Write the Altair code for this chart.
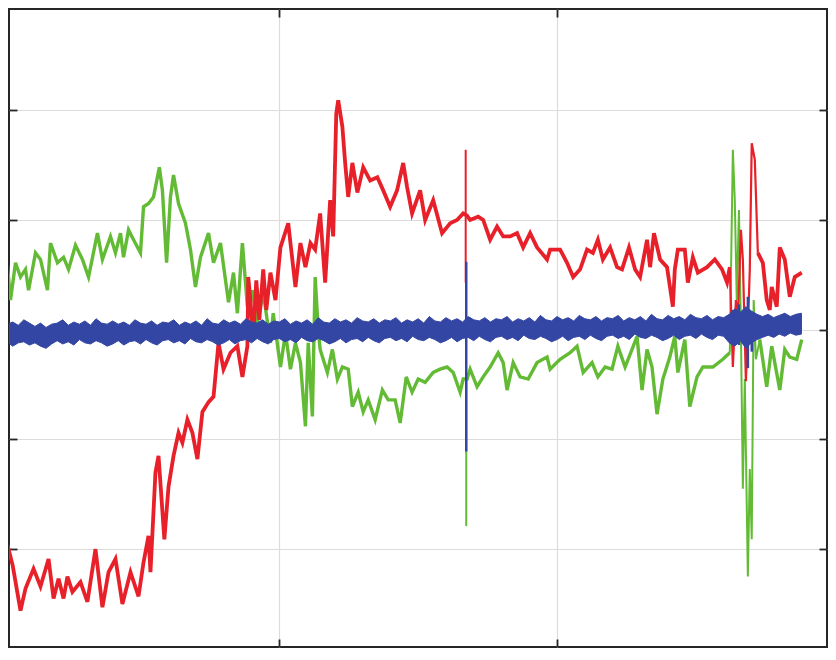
import altair as alt
import pandas as pd

# ---------------- data ----------------
red_x = [0.004, 0.011, 0.040, 0.068, 0.086, 0.115, 0.140, 0.169, 0.187, 0.205,
         0.223, 0.237, 0.255, 0.284, 0.309, 0.338, 0.363, 0.385, 0.410, 0.435,
         0.464, 0.493, 0.511, 0.529, 0.536, 0.554, 0.565, 0.586, 0.601, 0.619,
         0.637, 0.651, 0.669, 0.687, 0.705, 0.723, 0.745, 0.763, 0.781, 0.799,
         0.824, 0.849, 0.867, 0.885, 0.888, 0.896, 0.906, 0.917, 0.928, 0.942,
         0.953, 0.968, 0.986, 1.004, 1.032, 1.058, 1.076, 1.094, 1.112, 1.129,
         1.147, 1.165, 1.183, 1.194, 1.205, 1.212, 1.227, 1.237, 1.248, 1.263,
         1.281, 1.302, 1.327, 1.353, 1.374, 1.399, 1.424, 1.446, 1.460, 1.478,
         1.507, 1.525, 1.554, 1.586, 1.615, 1.640, 1.662, 1.676,
         1.687, 1.716, 1.734, 1.759, 1.784, 1.806, 1.831, 1.856, 1.878, 1.903,
         1.928, 1.964, 1.975, 2.011, 2.036, 2.058, 2.083, 2.108, 2.129, 2.147,
         2.165, 2.191, 2.216, 2.234, 2.259, 2.281, 2.299, 2.324, 2.335, 2.349,
         2.371, 2.396, 2.417, 2.424, 2.435, 2.460, 2.471, 2.489, 2.507, 2.540,
         2.568, 2.594, 2.612, 2.622]
red_y = [-1.95, -1.86, -2.15, -2.56, -2.36, -2.18, -2.34, -2.09, -2.45, -2.27,
         -2.45, -2.25, -2.39, -2.30, -2.48, -2.00, -2.53, -2.21, -2.09, -2.50,
         -2.21, -2.43, -2.12, -1.88, -2.21, -1.30, -1.15, -1.91, -1.43, -1.15,
         -0.94, -1.03, -0.82, -0.94, -1.18, -0.75, -0.66, -0.61, -0.12, -0.36,
         -0.21, -0.15, -0.43, -0.15, 0.48, 0.27, -0.09, 0.45, 0.09, 0.55,
         0.18, 0.52, 0.27, 0.75, 0.97, 0.39, 0.79, 0.57, 0.79, 0.73,
         1.06, 0.43, 1.18, 0.85, 1.97, 2.09, 1.85, 1.52, 1.21, 1.52,
         1.25, 1.48, 1.36, 1.39, 1.27, 1.12, 1.27, 1.52, 1.30, 1.06,
         1.27, 1.00, 1.18, 0.88, 0.97, 1.00, 1.06, 1.04,
         1.00, 1.03, 1.00, 0.82, 0.94, 0.85, 0.85, 0.88, 0.75, 0.88,
         0.75, 0.64, 0.73, 0.73, 0.61, 0.48, 0.55, 0.73, 0.70, 0.82,
         0.64, 0.75, 0.57, 0.55, 0.75, 0.55, 0.48, 0.82, 0.57, 0.88,
         0.64, 0.57, 0.21, 0.55, 0.73, 0.73, 0.43, 0.66, 0.52, 0.57,
         0.64, 0.55, 0.43, 0.57]

# red burst near the right end (thin strokes)
red_burst_x = [2.622, 2.633, 2.644, 2.651, 2.662, 2.669, 2.680, 2.687, 2.694,
               2.701, 2.712, 2.723]
red_burst_y = [0.57, -0.34, 0.27, 0.09, 0.91, 0.64, -0.47, 0.00, 0.55,
               1.70, 1.55, 0.70]

# red tail after the burst
red_tail_x = [2.723, 2.741, 2.755, 2.766, 2.773, 2.791, 2.802, 2.820, 2.838,
              2.856, 2.881]
red_tail_y = [0.70, 0.61, 0.27, 0.18, 0.39, 0.21, 0.75, 0.64, 0.30,
              0.48, 0.52]

green_x = [0.004, 0.014, 0.032, 0.050, 0.068, 0.086, 0.097, 0.122, 0.140, 0.165,
           0.176, 0.201, 0.223, 0.241, 0.266, 0.291, 0.313, 0.345, 0.363, 0.392,
           0.410, 0.428, 0.439, 0.457, 0.475, 0.500, 0.511, 0.529, 0.547, 0.568,
           0.579, 0.594, 0.608, 0.619, 0.637, 0.662, 0.680, 0.698, 0.716, 0.745,
           0.763, 0.788, 0.817, 0.835, 0.849, 0.867, 0.885, 0.903, 0.921, 0.942,
           0.968, 0.978, 1.004, 1.022, 1.040, 1.058, 1.076, 1.094, 1.104, 1.119,
           1.129, 1.140, 1.147, 1.173, 1.191, 1.209, 1.227, 1.248, 1.263, 1.284,
           1.302, 1.320, 1.345, 1.371, 1.392, 1.417, 1.435, 1.457, 1.478, 1.500,
           1.525, 1.554, 1.579, 1.604, 1.626, 1.651, 1.662, 1.676,
           1.687, 1.712, 1.734, 1.759, 1.788, 1.806, 1.820, 1.842, 1.867, 1.896,
           1.928, 1.964, 1.975, 2.011, 2.047, 2.072, 2.094, 2.126, 2.147, 2.173,
           2.198, 2.219, 2.245, 2.270, 2.288, 2.306, 2.324, 2.342, 2.360, 2.381,
           2.406, 2.424, 2.435, 2.460, 2.478, 2.504, 2.525, 2.561, 2.597, 2.622]
green_y = [0.85, 0.79, 0.27, 0.61, 0.48, 0.55, 0.36, 0.70, 0.64, 0.36,
           0.79, 0.61, 0.66, 0.55, 0.77, 0.64, 0.48, 0.88, 0.64, 0.85,
           0.70, 0.88, 0.66, 0.91, 0.82, 0.70, 1.12, 1.15, 1.21, 1.48,
           1.27, 0.61, 1.21, 1.41, 1.15, 0.97, 0.73, 0.39, 0.66, 0.88,
           0.61, 0.79, 0.25, 0.52, 0.15, 0.79, 0.21, 0.36, 0.06, 0.34,
           -0.12, 0.15, -0.34, -0.03, -0.36, -0.12, -0.30, -0.88, -0.12, -0.79,
           0.48, 0.00, -0.18, -0.39, -0.18, -0.45, -0.34, -0.36, -0.70, -0.57,
           -0.75, -0.64, -0.82, -0.55, -0.64, -0.64, -0.85, -0.43, -0.57, -0.45,
           -0.48, -0.39, -0.36, -0.34, -0.39, -0.57, -0.45, -0.45,
           -0.36, -0.52, -0.43, -0.34, -0.21, -0.30, -0.55, -0.30, -0.43, -0.45,
           -0.30, -0.25, -0.36, -0.27, -0.21, -0.15, -0.39, -0.30, -0.43, -0.34,
           -0.36, -0.15, -0.34, -0.18, -0.06, -0.55, -0.18, -0.34, -0.77, -0.45,
           -0.25, -0.06, -0.39, -0.09, -0.70, -0.43, -0.34, -0.34, -0.27, -0.21]

# green burst near the right end (thin strokes)
green_burst_x = [2.622, 2.633, 2.640, 2.647, 2.655, 2.662, 2.669, 2.676, 2.687,
                 2.694, 2.701, 2.708, 2.716, 2.730]
green_burst_y = [-0.21, 1.64, 1.18, 0.27, 1.09, 0.00, -1.45, -0.45, -2.25,
                 -1.27, -1.91, 0.27, -0.27, -0.09]

# green tail after the burst
green_tail_x = [2.730, 2.755, 2.773, 2.802, 2.820, 2.838, 2.863, 2.881]
green_tail_y = [-0.09, -0.52, -0.15, -0.55, -0.18, -0.25, -0.27, -0.09]

# isolated single-sample glitches (thin vertical strokes)
red_spike_x = [1.671]
red_spike_hi = [1.64]
red_spike_lo = [0.43]
green_spike_x = [1.673]
green_spike_hi = [-0.45]
green_spike_lo = [-1.79]

blue_x = [0.00, 0.02, 0.04, 0.06, 0.08, 0.10, 0.12, 0.14, 0.16, 0.18,
          0.20, 0.22, 0.24, 0.26, 0.28, 0.30, 0.32, 0.34, 0.36, 0.38,
          0.40, 0.42, 0.44, 0.46, 0.48, 0.50, 0.52, 0.54, 0.56, 0.58,
          0.60, 0.62, 0.64, 0.66, 0.68, 0.70, 0.72, 0.74, 0.76, 0.78,
          0.80, 0.82, 0.84, 0.86, 0.88, 0.90, 0.92, 0.94, 0.96, 0.98,
          1.00, 1.02, 1.04, 1.06, 1.08, 1.10, 1.12, 1.14, 1.16, 1.18,
          1.20, 1.22, 1.24, 1.26, 1.28, 1.30, 1.32, 1.34, 1.36, 1.38,
          1.40, 1.42, 1.44, 1.46, 1.48, 1.50, 1.52, 1.54, 1.56, 1.58,
          1.60, 1.62, 1.64, 1.66, 1.68, 1.70, 1.72, 1.74, 1.76, 1.78,
          1.80, 1.82, 1.84, 1.86, 1.88, 1.90, 1.92, 1.94, 1.96, 1.98,
          2.00, 2.02, 2.04, 2.06, 2.08, 2.10, 2.12, 2.14, 2.16, 2.18,
          2.20, 2.22, 2.24, 2.26, 2.28, 2.30, 2.32, 2.34, 2.36, 2.38,
          2.40, 2.42, 2.44, 2.46, 2.48, 2.50, 2.52, 2.54, 2.56, 2.58,
          2.60, 2.62, 2.64, 2.66, 2.68, 2.70, 2.72, 2.74, 2.76, 2.78,
          2.80, 2.82, 2.84, 2.86, 2.88]
blue_hi = [0.08, 0.05, 0.07, 0.04, 0.09, 0.06, 0.03, 0.06, 0.02, 0.05,
           0.06, 0.09, 0.04, 0.07, 0.05, 0.08, 0.04, 0.10, 0.06, 0.05,
           0.08, 0.05, 0.07, 0.04, 0.09, 0.06, 0.05, 0.08, 0.04, 0.07,
           0.06, 0.09, 0.04, 0.07, 0.05, 0.08, 0.04, 0.10, 0.06, 0.05,
           0.09, 0.06, 0.08, 0.05, 0.10, 0.07, 0.06, 0.09, 0.05, 0.08,
           0.07, 0.10, 0.05, 0.08, 0.06, 0.09, 0.05, 0.11, 0.07, 0.06,
           0.10, 0.07, 0.09, 0.06, 0.11, 0.08, 0.07, 0.10, 0.06, 0.09,
           0.08, 0.11, 0.06, 0.09, 0.07, 0.10, 0.06, 0.12, 0.08, 0.07,
           0.11, 0.08, 0.10, 0.07, 0.12, 0.09, 0.08, 0.11, 0.07, 0.10,
           0.09, 0.12, 0.07, 0.10, 0.08, 0.11, 0.07, 0.13, 0.09, 0.08,
           0.12, 0.09, 0.11, 0.08, 0.13, 0.10, 0.09, 0.12, 0.08, 0.11,
           0.10, 0.13, 0.08, 0.11, 0.09, 0.12, 0.08, 0.14, 0.10, 0.09,
           0.13, 0.10, 0.12, 0.09, 0.14, 0.11, 0.10, 0.13, 0.09, 0.12,
           0.11, 0.14, 0.19, 0.16, 0.21, 0.17, 0.14, 0.12, 0.14, 0.11,
           0.13, 0.15, 0.12, 0.14, 0.15]
blue_lo = [-0.14, -0.11, -0.15, -0.12, -0.11, -0.14, -0.12, -0.15, -0.17, -0.13,
           -0.10, -0.13, -0.11, -0.14, -0.09, -0.12, -0.13, -0.10, -0.12, -0.15,
           -0.13, -0.10, -0.14, -0.11, -0.10, -0.13, -0.09, -0.12, -0.14, -0.10,
           -0.09, -0.12, -0.10, -0.13, -0.08, -0.11, -0.12, -0.09, -0.11, -0.14,
           -0.12, -0.09, -0.13, -0.10, -0.09, -0.12, -0.08, -0.11, -0.13, -0.09,
           -0.08, -0.11, -0.09, -0.12, -0.07, -0.10, -0.11, -0.08, -0.10, -0.13,
           -0.11, -0.08, -0.12, -0.09, -0.08, -0.11, -0.07, -0.10, -0.12, -0.08,
           -0.07, -0.10, -0.08, -0.11, -0.06, -0.09, -0.10, -0.07, -0.09, -0.12,
           -0.10, -0.07, -0.11, -0.08, -0.07, -0.10, -0.06, -0.09, -0.11, -0.07,
           -0.06, -0.09, -0.07, -0.10, -0.05, -0.08, -0.09, -0.06, -0.08, -0.11,
           -0.09, -0.06, -0.10, -0.07, -0.06, -0.09, -0.05, -0.08, -0.10, -0.06,
           -0.05, -0.08, -0.06, -0.09, -0.04, -0.07, -0.08, -0.05, -0.07, -0.10,
           -0.08, -0.05, -0.09, -0.06, -0.05, -0.08, -0.04, -0.07, -0.09, -0.05,
           -0.06, -0.12, -0.15, -0.10, -0.17, -0.12, -0.09, -0.07, -0.05, -0.07,
           -0.04, -0.06, -0.03, -0.05, -0.04]

spike_x = [1.673, 2.633, 2.655, 2.687, 2.701]
spike_hi = [0.62, 0.18, 0.23, 0.30, 0.16]
spike_lo = [-1.11, -0.10, -0.14, -0.35, -0.20]

x_ticks = [1, 2]
y_ticks = [-2, -1, 0, 1, 2]

RED = "#e8202a"
GREEN = "#63bb35"
BLUE = "#3446a3"
DARK = "#262626"

# ---------------- chart ----------------
xs = alt.Scale(domain=[0.0266, 2.972], nice=False, zero=False)
ys = alt.Scale(domain=[-2.892, 2.923], nice=False, zero=False)

tick_style = dict(labels=False, domain=False, ticks=True, tickSize=8,
                  tickColor=DARK, tickWidth=1.8, offset=-8, title=None)


def frame(xv, yv):
    return pd.DataFrame({"x": xv, "y": yv})


green = alt.Chart(frame(green_x, green_y)).mark_line(color=GREEN, strokeWidth=3.4, clip=True).encode(
    x=alt.X("x:Q", scale=xs, axis=alt.Axis(orient="bottom", values=x_ticks, grid=True,
                                            gridColor="#dcdcdc", gridWidth=1.2, **tick_style)),
    y=alt.Y("y:Q", scale=ys, axis=alt.Axis(orient="left", values=y_ticks, grid=True,
                                            gridColor="#dcdcdc", gridWidth=1.2, **tick_style)),
)

red = alt.Chart(frame(red_x, red_y)).mark_line(color=RED, strokeWidth=3.8, clip=True).encode(
    x=alt.X("x:Q", scale=xs, axis=alt.Axis(orient="top", values=x_ticks, grid=False, **tick_style)),
    y=alt.Y("y:Q", scale=ys, axis=alt.Axis(orient="right", values=y_ticks, grid=False, **tick_style)),
)


def plain_line(df, color, width):
    return alt.Chart(df).mark_line(color=color, strokeWidth=width, clip=True).encode(
        x=alt.X("x:Q", scale=xs, axis=None),
        y=alt.Y("y:Q", scale=ys, axis=None),
    )


def rule_layer(df, color, width):
    return alt.Chart(df).mark_rule(color=color, strokeWidth=width, clip=True).encode(
        x=alt.X("x:Q", scale=xs, axis=None),
        y=alt.Y("hi:Q", scale=ys, axis=None),
        y2="lo:Q",
    )


green_tail = plain_line(frame(green_tail_x, green_tail_y), GREEN, 3.4)
red_tail = plain_line(frame(red_tail_x, red_tail_y), RED, 3.8)
green_b = plain_line(frame(green_burst_x, green_burst_y), GREEN, 2)
red_b = plain_line(frame(red_burst_x, red_burst_y), RED, 2.2)
green_sp = rule_layer(pd.DataFrame({"x": green_spike_x, "hi": green_spike_hi,
                                    "lo": green_spike_lo}), GREEN, 2)
red_sp = rule_layer(pd.DataFrame({"x": red_spike_x, "hi": red_spike_hi,
                                  "lo": red_spike_lo}), RED, 2)

blue = alt.Chart(pd.DataFrame({"x": blue_x, "hi": blue_hi, "lo": blue_lo})).mark_area(
    color=BLUE, opacity=1, clip=True, stroke=BLUE, strokeWidth=1).encode(
    x=alt.X("x:Q", scale=xs, axis=None),
    y=alt.Y("hi:Q", scale=ys, axis=None),
    y2="lo:Q",
)

spikes = rule_layer(pd.DataFrame({"x": spike_x, "hi": spike_hi, "lo": spike_lo}), BLUE, 2.5)

chart = (
    alt.layer(green, red, green_tail, red_tail, green_b, red_b, green_sp, red_sp,
              blue, spikes)
    .resolve_axis(x="independent", y="independent")
    .properties(width=818, height=638,
                padding={"left": 1, "top": 1, "right": 1, "bottom": 1},
                autosize=alt.AutoSizeParams(type="none"))
    .configure_view(stroke=DARK, strokeWidth=2, fill="white")
)

chart.save("out.html", embed_options={"renderer": "svg", "actions": False})
